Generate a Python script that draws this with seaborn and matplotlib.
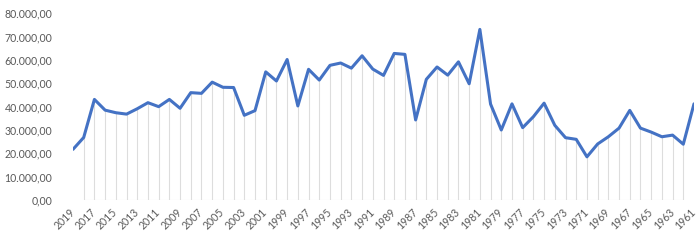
import matplotlib
matplotlib.use("Agg")
import matplotlib.pyplot as plt
from matplotlib.ticker import FuncFormatter
import matplotlib.transforms as mtransforms
import seaborn as sns
import pandas as pd

years = list(range(2019, 1960, -1))
values = [21700, 26800, 43100, 38500, 37400, 36800, 39100, 41700, 40000, 43100,
          39300, 46000, 45700, 50500, 48300, 48200, 36300, 38300, 54900, 51000,
          60200, 40300, 56000, 51400, 57700, 58700, 56500, 61800, 56100, 53400,
          62800, 62400, 34300, 51700, 57000, 53500, 59200, 49800, 73100, 41100,
          30000, 41200, 31000, 35700, 41500, 32000, 26700, 26000, 18500, 24000,
          27100, 30800, 38400, 30800, 29100, 27100, 27800, 23900, 41200]
tick_years = years[::2]
y_ticks = [0, 10000, 20000, 30000, 40000, 50000, 60000, 70000, 80000]

df = pd.DataFrame({"year": years, "value": values})

sns.set_theme(style="white")
plt.rcParams["font.family"] = ["Lato", "DejaVu Sans"]

fig = plt.figure(figsize=(7, 2.4), dpi=100)
ax = fig.add_axes([73 / 700, 1 - 200 / 240, (694 - 73) / 700, (200 - 13.3) / 240])

# drop lines (interior points) and baseline
ax.vlines(df["year"].iloc[1:-1], 0, df["value"].iloc[1:-1], color="#DDDDDD", linewidth=0.8, zorder=1)
ax.hlines(0, df["year"].iloc[1], df["year"].iloc[-2], color="#DDDDDD", linewidth=0.8, zorder=1)

sns.lineplot(data=df, x="year", y="value", ax=ax, color="#4472C4", linewidth=2.2, zorder=3)

ax.set_xlim(years[0], years[-1])
ax.set_ylim(0, 80000)
ax.set_yticks(y_ticks)
ax.yaxis.set_major_formatter(FuncFormatter(
    lambda v, p: f"{v:,.2f}".replace(",", "X").replace(".", ",").replace("X", ".")))
ax.tick_params(axis="y", labelsize=7.6, labelcolor="#595959", length=0, pad=15)
ax.tick_params(axis="x", length=0, pad=3)
for s in ax.spines.values():
    s.set_visible(False)
ax.set_xlabel("")
ax.set_ylabel("")
ax.grid(False)

ax.set_xticks(tick_years)
ax.set_xticklabels([str(y) for y in tick_years], rotation=45, ha="right", va="top",
                   rotation_mode="anchor", fontsize=7.6, color="#595959")
shift = mtransforms.ScaledTranslation(-4 / 100, -2 / 100, fig.dpi_scale_trans)
for lab in ax.get_xticklabels():
    lab.set_transform(lab.get_transform() + shift)

fig.savefig("out.png", dpi=100)
